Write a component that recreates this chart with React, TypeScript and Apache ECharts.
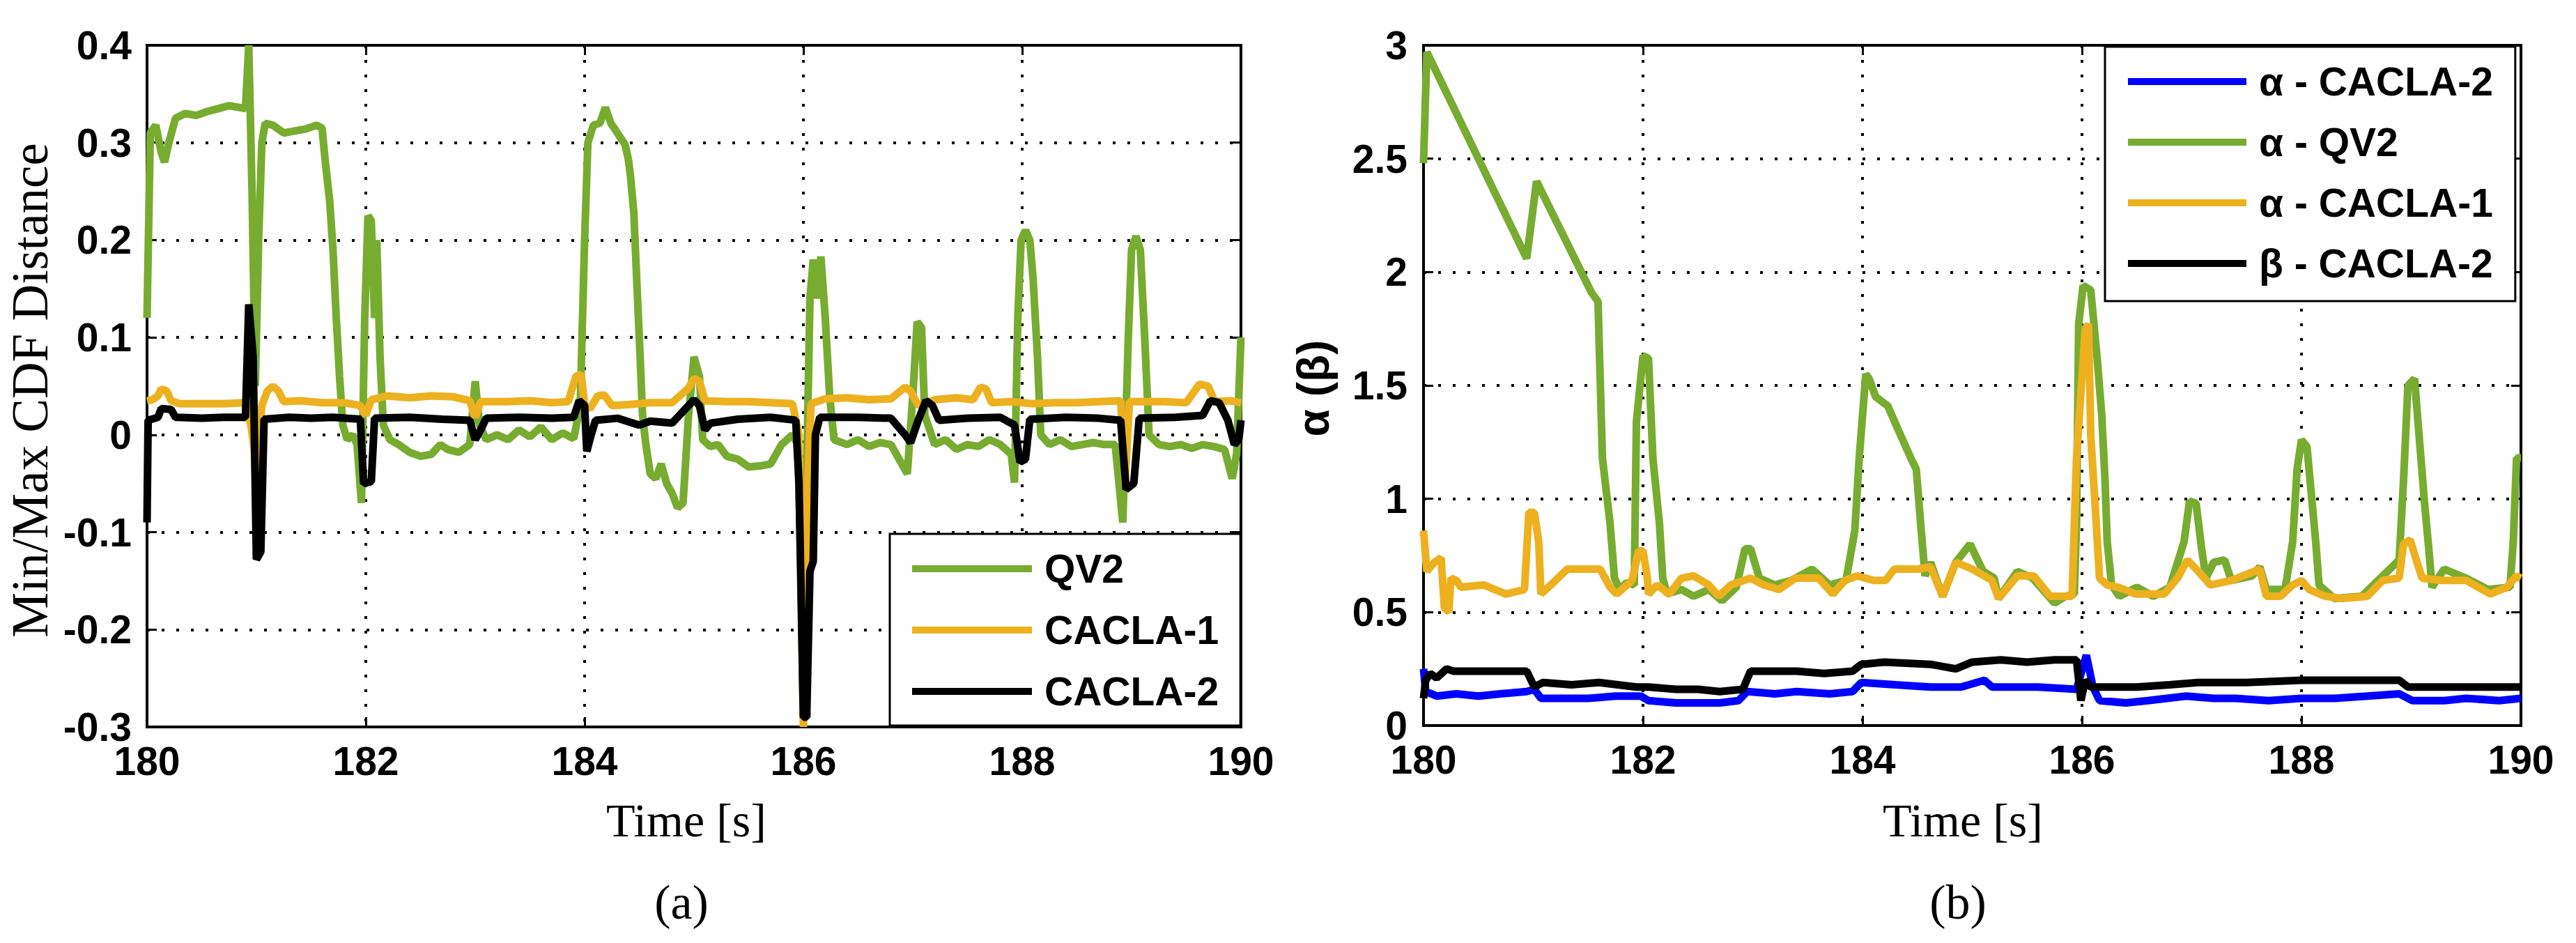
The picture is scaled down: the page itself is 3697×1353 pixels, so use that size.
import React, { useEffect, useRef } from "react";
import * as echarts from "echarts";

// ---------- Data (a): Min/Max CDF distance ----------
const qv2Dist: number[][] = [
  [180.0, 0.12], [180.03, 0.31], [180.08, 0.318], [180.13, 0.29], [180.16, 0.28], [180.2, 0.3],
  [180.26, 0.325], [180.35, 0.33], [180.45, 0.328], [180.55, 0.332], [180.65, 0.335], [180.75, 0.338],
  [180.85, 0.336], [180.9, 0.335], [180.93, 0.4], [180.96, 0.25], [180.99, 0.05], [181.02, 0.2],
  [181.05, 0.3], [181.08, 0.32], [181.15, 0.318], [181.25, 0.31], [181.35, 0.312], [181.45, 0.314],
  [181.55, 0.318], [181.6, 0.315], [181.63, 0.28], [181.67, 0.24], [181.7, 0.19], [181.73, 0.12],
  [181.76, 0.06], [181.79, 0.01], [181.83, -0.005], [181.88, 0.0], [181.92, -0.01], [181.96, -0.07],
  [181.99, 0.12], [182.02, 0.225], [182.05, 0.22], [182.08, 0.12], [182.1, 0.2], [182.13, 0.08],
  [182.16, 0.01], [182.22, -0.005], [182.3, -0.01], [182.4, -0.018], [182.5, -0.022], [182.6, -0.02],
  [182.68, -0.01], [182.75, -0.015], [182.85, -0.018], [182.95, -0.01], [183.0, 0.055], [183.04, 0.01],
  [183.1, -0.005], [183.2, 0.0], [183.3, -0.005], [183.4, 0.005], [183.5, -0.002], [183.6, 0.008],
  [183.7, -0.005], [183.8, 0.002], [183.9, -0.004], [183.96, 0.03], [184.0, 0.2], [184.03, 0.3],
  [184.08, 0.318], [184.14, 0.32], [184.19, 0.336], [184.24, 0.32], [184.3, 0.31], [184.37, 0.298],
  [184.4, 0.283], [184.42, 0.265], [184.45, 0.228], [184.48, 0.15], [184.5, 0.1], [184.53, 0.02],
  [184.56, -0.01], [184.6, -0.04], [184.65, -0.045], [184.7, -0.03], [184.75, -0.05], [184.8, -0.06],
  [184.85, -0.075], [184.9, -0.07], [184.95, 0.02], [185.0, 0.08], [185.05, 0.06], [185.08, -0.005],
  [185.15, -0.012], [185.22, -0.01], [185.3, -0.022], [185.4, -0.025], [185.5, -0.033], [185.6, -0.032],
  [185.7, -0.03], [185.8, -0.01], [185.9, 0.0], [185.95, -0.01], [185.98, -0.15], [186.0, -0.29],
  [186.02, -0.1], [186.04, 0.02], [186.06, 0.14], [186.09, 0.18], [186.12, 0.14], [186.16, 0.183],
  [186.2, 0.12], [186.24, 0.04], [186.28, -0.005], [186.4, -0.01], [186.5, -0.005], [186.6, -0.012],
  [186.7, -0.008], [186.8, -0.01], [186.9, -0.03], [186.95, -0.04], [187.0, 0.04], [187.04, 0.116],
  [187.08, 0.11], [187.11, 0.02], [187.2, -0.01], [187.3, -0.005], [187.4, -0.015], [187.5, -0.01],
  [187.6, -0.012], [187.7, -0.005], [187.8, -0.01], [187.9, -0.02], [187.93, -0.049], [187.96, 0.12],
  [187.99, 0.2], [188.03, 0.21], [188.07, 0.2], [188.1, 0.16], [188.14, 0.08], [188.17, 0.0],
  [188.25, -0.01], [188.35, -0.005], [188.45, -0.012], [188.55, -0.01], [188.65, -0.008], [188.75, -0.01],
  [188.85, -0.01], [188.92, -0.09], [188.97, 0.1], [189.0, 0.19], [189.04, 0.204], [189.08, 0.19],
  [189.12, 0.1], [189.16, 0.0], [189.25, -0.01], [189.35, -0.012], [189.45, -0.01], [189.55, -0.014],
  [189.65, -0.01], [189.75, -0.012], [189.85, -0.015], [189.92, -0.045], [189.96, -0.02], [189.98, 0.04],
  [190.0, 0.1],
];

const cacla1Dist: number[][] = [
  [180.0, 0.035], [180.05, 0.036], [180.1, 0.04], [180.13, 0.047], [180.18, 0.045], [180.22, 0.035],
  [180.3, 0.032], [180.5, 0.032], [180.7, 0.032], [180.9, 0.033], [180.95, 0.01], [180.98, -0.015],
  [181.0, -0.065], [181.02, 0.0], [181.05, 0.03], [181.1, 0.045], [181.15, 0.05], [181.2, 0.045],
  [181.25, 0.034], [181.4, 0.035], [181.6, 0.033], [181.8, 0.033], [181.95, 0.03], [182.0, 0.02],
  [182.05, 0.036], [182.2, 0.04], [182.4, 0.038], [182.6, 0.04], [182.8, 0.039], [182.95, 0.035],
  [183.0, 0.018], [183.05, 0.034], [183.3, 0.034], [183.5, 0.035], [183.7, 0.033], [183.85, 0.034],
  [183.92, 0.06], [183.97, 0.062], [184.0, 0.03], [184.05, 0.027], [184.12, 0.04], [184.18, 0.041],
  [184.25, 0.03], [184.4, 0.031], [184.6, 0.033], [184.8, 0.033], [184.95, 0.048], [185.0, 0.058],
  [185.05, 0.055], [185.1, 0.035], [185.3, 0.034], [185.5, 0.034], [185.7, 0.033], [185.9, 0.032],
  [185.96, 0.0], [186.0, -0.3], [186.04, -0.05], [186.07, 0.032], [186.2, 0.037], [186.4, 0.038],
  [186.6, 0.036], [186.8, 0.037], [186.93, 0.049], [186.98, 0.045], [187.05, 0.03], [187.2, 0.036],
  [187.4, 0.038], [187.55, 0.036], [187.62, 0.049], [187.67, 0.047], [187.72, 0.033], [187.9, 0.034],
  [188.1, 0.032], [188.3, 0.033], [188.5, 0.033], [188.7, 0.034], [188.9, 0.035], [188.94, -0.05],
  [188.98, 0.034], [189.1, 0.034], [189.3, 0.034], [189.5, 0.033], [189.62, 0.052], [189.7, 0.05],
  [189.76, 0.034], [189.9, 0.035], [190.0, 0.033],
];

const cacla2Dist: number[][] = [
  [180.0, -0.09], [180.01, 0.015], [180.1, 0.018], [180.13, 0.027], [180.22, 0.026], [180.26, 0.018],
  [180.5, 0.017], [180.7, 0.018], [180.9, 0.018], [180.93, 0.134], [180.97, 0.08], [181.0, -0.128],
  [181.04, -0.12], [181.07, 0.016], [181.3, 0.018], [181.5, 0.017], [181.7, 0.018], [181.95, 0.016],
  [181.98, -0.05], [182.05, -0.048], [182.08, 0.017], [182.4, 0.018], [182.7, 0.016], [182.95, 0.015],
  [183.0, -0.005], [183.05, 0.005], [183.1, 0.017], [183.4, 0.018], [183.7, 0.017], [183.9, 0.018],
  [183.95, 0.035], [184.0, 0.03], [184.02, -0.017], [184.06, 0.0], [184.1, 0.015], [184.3, 0.017],
  [184.5, 0.01], [184.6, 0.014], [184.8, 0.012], [184.95, 0.03], [185.0, 0.036], [185.05, 0.03],
  [185.1, 0.005], [185.15, 0.012], [185.4, 0.016], [185.7, 0.018], [185.93, 0.015], [185.96, -0.05],
  [186.0, -0.29], [186.03, -0.29], [186.06, -0.14], [186.09, -0.13], [186.11, 0.0], [186.15, 0.018],
  [186.5, 0.018], [186.8, 0.017], [186.93, 0.0], [186.98, -0.008], [187.05, 0.015], [187.12, 0.035],
  [187.18, 0.03], [187.24, 0.015], [187.5, 0.017], [187.8, 0.018], [187.93, 0.01], [187.98, -0.028],
  [188.03, -0.025], [188.07, 0.016], [188.4, 0.018], [188.7, 0.017], [188.9, 0.015], [188.95, -0.056],
  [189.02, -0.05], [189.07, 0.017], [189.4, 0.018], [189.65, 0.02], [189.72, 0.035], [189.8, 0.033],
  [189.88, 0.015], [189.94, -0.01], [189.98, -0.005], [190.0, 0.015],
];

// ---------- Data (b): alpha / beta ----------
const alphaCacla2: number[][] = [
  [180.0, 0.25], [180.02, 0.15], [180.12, 0.13], [180.3, 0.14], [180.5, 0.13], [180.7, 0.14],
  [180.94, 0.15], [181.01, 0.16], [181.07, 0.12], [181.3, 0.12], [181.5, 0.12], [181.75, 0.13],
  [181.98, 0.13], [182.05, 0.11], [182.3, 0.1], [182.5, 0.1], [182.7, 0.1], [182.87, 0.11],
  [182.95, 0.15], [183.2, 0.14], [183.4, 0.15], [183.7, 0.14], [183.91, 0.15], [183.99, 0.19],
  [184.3, 0.18], [184.62, 0.17], [184.9, 0.17], [185.11, 0.2], [185.18, 0.17], [185.6, 0.17],
  [185.95, 0.16], [186.04, 0.31], [186.1, 0.17], [186.16, 0.11], [186.4, 0.1], [186.6, 0.11],
  [186.95, 0.13], [187.2, 0.12], [187.4, 0.12], [187.7, 0.11], [188.0, 0.12], [188.3, 0.12],
  [188.6, 0.13], [188.89, 0.14], [189.01, 0.11], [189.3, 0.11], [189.5, 0.12], [189.8, 0.11],
  [190.0, 0.12],
];

const alphaQv2: number[][] = [
  [180.0, 2.48], [180.03, 2.97], [180.94, 2.06], [181.03, 2.4], [181.53, 1.91], [181.59, 1.87],
  [181.63, 1.18], [181.7, 0.89], [181.74, 0.65], [181.79, 0.6], [181.85, 0.63], [181.92, 0.62],
  [181.94, 1.34], [182.0, 1.63], [182.05, 1.62], [182.09, 1.18], [182.15, 0.89], [182.18, 0.65],
  [182.22, 0.58], [182.35, 0.6], [182.46, 0.57], [182.6, 0.6], [182.72, 0.55], [182.85, 0.61],
  [182.93, 0.78], [182.98, 0.78], [183.06, 0.65], [183.2, 0.62], [183.35, 0.64], [183.54, 0.69],
  [183.7, 0.62], [183.85, 0.64], [183.93, 0.86], [183.97, 1.18], [184.03, 1.55], [184.06, 1.53],
  [184.12, 1.45], [184.23, 1.41], [184.32, 1.31], [184.44, 1.18], [184.49, 1.13], [184.53, 0.89],
  [184.57, 0.66], [184.62, 0.72], [184.73, 0.57], [184.85, 0.72], [184.98, 0.8], [185.1, 0.68],
  [185.2, 0.65], [185.24, 0.56], [185.41, 0.68], [185.55, 0.65], [185.75, 0.54], [185.85, 0.57],
  [185.93, 0.58], [185.95, 0.89], [185.97, 1.77], [186.01, 1.94], [186.08, 1.92], [186.14, 1.61],
  [186.18, 1.37], [186.21, 1.08], [186.23, 0.81], [186.27, 0.62], [186.34, 0.57], [186.5, 0.61],
  [186.65, 0.57], [186.8, 0.61], [186.93, 0.81], [186.98, 0.99], [187.04, 0.98], [187.09, 0.78],
  [187.13, 0.65], [187.2, 0.72], [187.3, 0.73], [187.36, 0.64], [187.55, 0.66], [187.62, 0.7],
  [187.68, 0.6], [187.85, 0.6], [187.92, 0.81], [187.96, 1.13], [188.0, 1.26], [188.05, 1.23],
  [188.09, 1.02], [188.13, 0.81], [188.16, 0.62], [188.3, 0.56], [188.55, 0.57], [188.72, 0.65],
  [188.89, 0.73], [188.93, 1.08], [188.97, 1.5], [189.03, 1.53], [189.08, 1.23], [189.12, 0.99],
  [189.16, 0.78], [189.19, 0.61], [189.3, 0.69], [189.5, 0.65], [189.7, 0.6], [189.9, 0.61],
  [189.93, 0.81], [189.96, 1.18], [190.0, 1.18],
];

const alphaCacla1: number[][] = [
  [180.0, 0.86], [180.03, 0.68], [180.1, 0.72], [180.16, 0.74], [180.19, 0.52], [180.23, 0.5],
  [180.25, 0.65], [180.3, 0.64], [180.34, 0.61], [180.55, 0.62], [180.75, 0.58], [180.92, 0.6],
  [180.96, 0.94], [181.01, 0.94], [181.05, 0.81], [181.07, 0.58], [181.16, 0.62], [181.31, 0.69],
  [181.61, 0.69], [181.7, 0.61], [181.76, 0.58], [181.9, 0.64], [181.96, 0.77], [182.0, 0.77],
  [182.04, 0.65], [182.05, 0.58], [182.13, 0.62], [182.24, 0.58], [182.35, 0.65], [182.46, 0.66],
  [182.6, 0.62], [182.69, 0.57], [182.8, 0.62], [182.98, 0.65], [183.1, 0.62], [183.24, 0.6],
  [183.39, 0.65], [183.6, 0.65], [183.73, 0.58], [183.84, 0.64], [183.95, 0.66], [184.1, 0.64],
  [184.21, 0.64], [184.29, 0.69], [184.51, 0.69], [184.62, 0.7], [184.73, 0.57], [184.85, 0.72],
  [185.0, 0.69], [185.18, 0.64], [185.24, 0.56], [185.41, 0.66], [185.56, 0.66], [185.71, 0.57],
  [185.91, 0.57], [185.95, 1.18], [186.03, 1.75], [186.06, 1.77], [186.08, 1.28], [186.12, 0.97],
  [186.16, 0.65], [186.23, 0.62], [186.33, 0.61], [186.49, 0.58], [186.75, 0.58], [186.87, 0.65],
  [186.96, 0.73], [187.06, 0.68], [187.17, 0.62], [187.36, 0.64], [187.62, 0.69], [187.68, 0.57],
  [187.81, 0.57], [187.92, 0.62], [188.0, 0.64], [188.07, 0.6], [188.22, 0.57], [188.37, 0.56],
  [188.6, 0.57], [188.74, 0.64], [188.89, 0.65], [188.93, 0.8], [188.99, 0.82], [189.04, 0.74],
  [189.1, 0.65], [189.27, 0.64], [189.5, 0.64], [189.61, 0.61], [189.72, 0.58], [189.87, 0.61],
  [189.96, 0.66], [190.0, 0.65],
];

const betaCacla2: number[][] = [
  [180.0, 0.12], [180.02, 0.2], [180.06, 0.23], [180.12, 0.21], [180.21, 0.25], [180.27, 0.24],
  [180.6, 0.24], [180.94, 0.24], [181.01, 0.17], [181.09, 0.19], [181.35, 0.18], [181.6, 0.19],
  [181.94, 0.17], [182.05, 0.17], [182.3, 0.16], [182.5, 0.16], [182.7, 0.15], [182.91, 0.16],
  [182.98, 0.24], [183.2, 0.24], [183.4, 0.24], [183.65, 0.23], [183.91, 0.24], [183.99, 0.27],
  [184.2, 0.28], [184.62, 0.27], [184.85, 0.25], [185.0, 0.28], [185.26, 0.29], [185.5, 0.28],
  [185.75, 0.29], [185.95, 0.29], [185.99, 0.11], [186.03, 0.2], [186.08, 0.17], [186.5, 0.17],
  [186.8, 0.18], [187.06, 0.19], [187.5, 0.19], [188.0, 0.2], [188.5, 0.2], [188.89, 0.2],
  [188.97, 0.17], [189.5, 0.17], [190.0, 0.17],
];

const xTicksMin = 180;
const xTicksMax = 190;

const GREEN = "#77AC30";
const ORANGE = "#EDB120";
const BLUE = "#0000FF";
const BLACK = "#000000";

const SANS = "Liberation Sans";
const SERIF = "Liberation Serif";

function App() {
  const ref = useRef<HTMLDivElement>(null);

  useEffect(() => {
    document.body.style.margin = "0";
    if (!ref.current) return;
    const chart = echarts.init(ref.current, undefined, { renderer: "svg" });

    const tickLabel = {
      fontFamily: SANS,
      fontWeight: "bold" as const,
      fontSize: 57,
      color: "#000",
    };
    const axisLine = { show: true, onZero: false, lineStyle: { color: "#000", width: 4 } };
    const axisTick = { show: true, inside: true, length: 14, lineStyle: { color: "#000", width: 3 } };
    const split = { show: true, lineStyle: { color: "#000", width: 4, type: [4, 17] as number[] } };

    const xMain = (gi: number) => ({
      type: "value" as const, gridIndex: gi, min: xTicksMin, max: xTicksMax, interval: 2,
      position: "bottom" as const, axisLine, axisTick,
      axisLabel: { ...tickLabel, margin: 29, lineHeight: 40 }, splitLine: split,
    });
    const xTop = (gi: number) => ({
      type: "value" as const, gridIndex: gi, min: xTicksMin, max: xTicksMax, interval: 2,
      position: "top" as const, axisLine, axisTick, axisLabel: { show: false }, splitLine: { show: false },
    });

    const lineSeries = (name: string, data: number[][], color: string, xi: number, yi: number) => ({
      name, type: "line" as const, data, xAxisIndex: xi, yAxisIndex: yi,
      showSymbol: false, symbol: "none", color,
      lineStyle: { color, width: 11 }, clip: true, animation: false,
    });

    const legendText = {
      fontFamily: SANS, fontWeight: "bold" as const, fontSize: 57, color: "#000",
      lineHeight: 60, padding: [0, 0, 0, 13],
    };

    chart.setOption({
      animation: false,
      backgroundColor: "#fff",
      grid: [
        { left: 211, top: 65, width: 1570, height: 978, show: true, borderColor: "#000", borderWidth: 4, backgroundColor: "#fff" },
        { left: 2043, top: 65, width: 1575, height: 976, show: true, borderColor: "#000", borderWidth: 4, backgroundColor: "#fff" },
      ],
      xAxis: [xMain(0), xTop(0), xMain(1), xTop(1)],
      yAxis: [
        {
          type: "value", gridIndex: 0, min: -0.3, max: 0.4, interval: 0.1, position: "left",
          axisLine, axisTick, axisLabel: { ...tickLabel, margin: 22, lineHeight: 40 }, splitLine: split,
        },
        {
          type: "value", gridIndex: 0, min: -0.3, max: 0.4, interval: 0.1, position: "right",
          axisLine, axisTick, axisLabel: { show: false }, splitLine: { show: false },
        },
        {
          type: "value", gridIndex: 1, min: 0, max: 3, interval: 0.5, position: "left",
          axisLine, axisTick, axisLabel: { ...tickLabel, margin: 23, lineHeight: 40 }, splitLine: split,
        },
        {
          type: "value", gridIndex: 1, min: 0, max: 3, interval: 0.5, position: "right",
          axisLine, axisTick, axisLabel: { show: false }, splitLine: { show: false },
        },
      ],
      legend: [
        {
          orient: "vertical", left: 1277, top: 766, selectedMode: false,
          data: ["QV2", "CACLA-1", "CACLA-2"], icon: "rect", itemWidth: 172, itemHeight: 10, itemGap: 28,
          padding: [20, 31, 19, 32], backgroundColor: "#fff", borderColor: "#000", borderWidth: 3,
          textStyle: legendText,
        },
        {
          orient: "vertical", left: 3021, top: 67, selectedMode: false,
          data: ["α - CACLA-2", "α - QV2", "α - CACLA-1", "β - CACLA-2"], icon: "rect",
          itemWidth: 170, itemHeight: 10, itemGap: 27,
          padding: [20, 32, 24, 33], backgroundColor: "#fff", borderColor: "#000", borderWidth: 3,
          textStyle: legendText,
        },
      ],
      series: [
        lineSeries("QV2", qv2Dist, GREEN, 0, 0),
        lineSeries("CACLA-1", cacla1Dist, ORANGE, 0, 0),
        lineSeries("CACLA-2", cacla2Dist, BLACK, 0, 0),
        lineSeries("α - CACLA-2", alphaCacla2, BLUE, 2, 2),
        lineSeries("α - QV2", alphaQv2, GREEN, 2, 2),
        lineSeries("α - CACLA-1", alphaCacla1, ORANGE, 2, 2),
        lineSeries("β - CACLA-2", betaCacla2, BLACK, 2, 2),
      ],
      graphic: [
        {
          type: "text", x: 43, y: 560, rotation: Math.PI / 2,
          style: { text: "Min/Max CDF Distance", fontFamily: SERIF, fontSize: 73, fill: "#000", align: "center", verticalAlign: "middle" },
        },
        {
          type: "text", x: 1885, y: 557, rotation: Math.PI / 2,
          style: { text: "α (β)", fontFamily: SANS, fontWeight: "bold", fontSize: 64, fill: "#000", align: "center", verticalAlign: "middle" },
        },
        {
          type: "text", x: 985, y: 1177,
          style: { text: "Time [s]", fontFamily: SERIF, fontSize: 68, fill: "#000", align: "center", verticalAlign: "middle" },
        },
        {
          type: "text", x: 2817, y: 1177,
          style: { text: "Time [s]", fontFamily: SERIF, fontSize: 68, fill: "#000", align: "center", verticalAlign: "middle" },
        },
        {
          type: "text", x: 978, y: 1294,
          style: { text: "(a)", fontFamily: SERIF, fontSize: 70, fill: "#000", align: "center", verticalAlign: "middle" },
        },
        {
          type: "text", x: 2810, y: 1294,
          style: { text: "(b)", fontFamily: SERIF, fontSize: 70, fill: "#000", align: "center", verticalAlign: "middle" },
        },
      ],
    });

    return () => chart.dispose();
  }, []);

  return <div ref={ref} style={{ width: 3697, height: 1353 }} />;
}

export default App;
